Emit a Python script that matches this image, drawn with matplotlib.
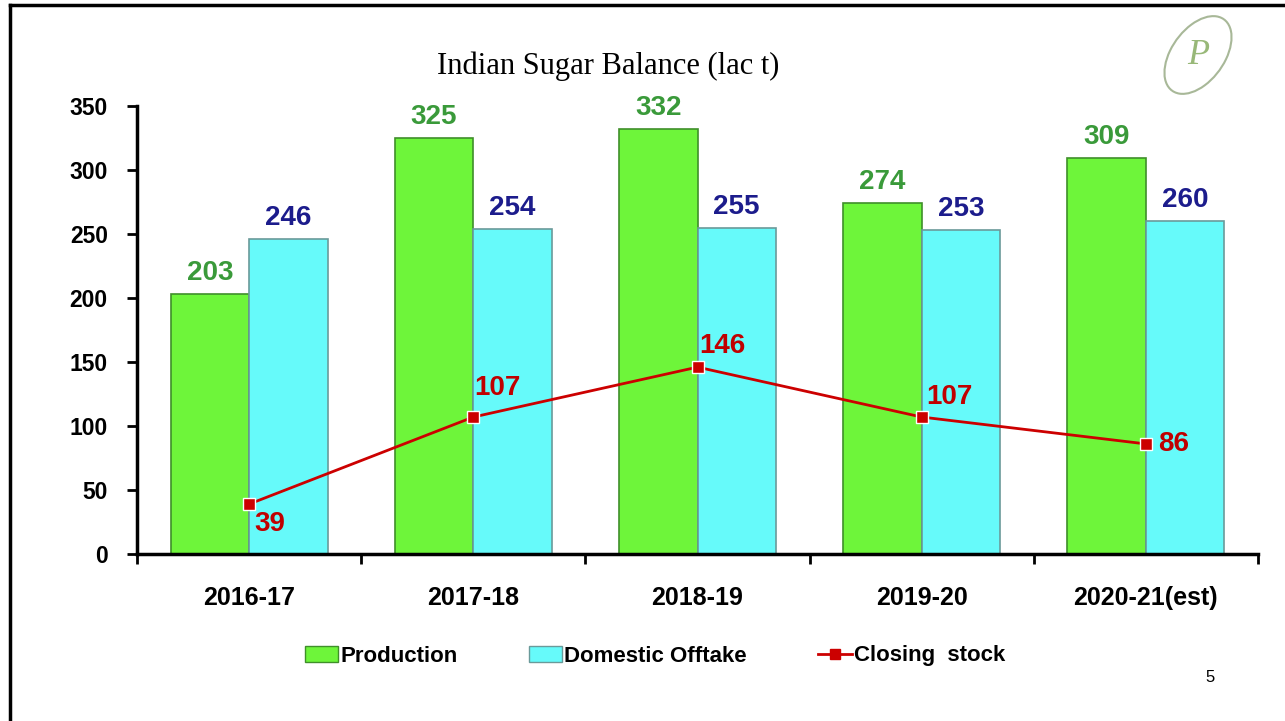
import matplotlib.pyplot as plt
import numpy as np
from matplotlib.patches import Ellipse, Patch
from matplotlib.lines import Line2D

plt.rcParams['font.family'] = ['Liberation Sans', 'DejaVu Sans']

# Données (lac t)
saisons = ['2016-17', '2017-18', '2018-19', '2019-20', '2020-21(est)']
production = [203, 325, 332, 274, 309]
consommation = [246, 254, 255, 253, 260]
stock_final = [39, 107, 146, 107, 86]

# décalage des étiquettes du stock (pixels)
decalages = [(21, -20), (24, 29), (25, 21), (28, 20), (12, 0)]

fig = plt.figure(figsize=(12.85, 7.21), dpi=100)
ax = fig.add_axes([137 / 1285, 167 / 721, 1121 / 1285, 448 / 721])

x = np.arange(len(saisons))
w = 0.35

ax.bar(x - w / 2, production, w, color='#6ef53a', edgecolor='#3f8f2a', linewidth=1.2, zorder=2)
ax.bar(x + w / 2, consommation, w, color='#66fafa', edgecolor='#6a9a9a', linewidth=1.2, zorder=2)
ax.plot(x, stock_final, color='#cc0000', linewidth=2, marker='s', markersize=9,
        markerfacecolor='#cc0000', markeredgecolor='white', markeredgewidth=1, zorder=4)

for i in range(len(saisons)):
    ax.annotate(str(production[i]), (x[i] - w / 2, production[i]), xytext=(0, 8),
                textcoords='offset pixels', ha='center', va='bottom',
                fontsize=20, fontweight='bold', color='#3a9a3a')
    ax.annotate(str(consommation[i]), (x[i] + w / 2, consommation[i]), xytext=(0, 8),
                textcoords='offset pixels', ha='center', va='bottom',
                fontsize=20, fontweight='bold', color='#1c1c8c')
    dx, dy = decalages[i]
    ax.annotate(str(stock_final[i]), (x[i], stock_final[i]), xytext=(dx, dy),
                textcoords='offset pixels', ha='center' if i < 4 else 'left', va='center',
                fontsize=20, fontweight='bold', color='#c00000', zorder=5)

ax.set_xlim(-0.5, len(saisons) - 0.5)
ax.set_ylim(0, 350)
ax.set_yticks(range(0, 351, 50))
ax.set_xticks(np.arange(-0.5, len(saisons), 1.0))
ax.set_xticklabels([])
ax.set_xticks(x, minor=True)
ax.set_xticklabels(saisons, minor=True)
ax.tick_params(axis='x', which='minor', length=0, pad=23, labelsize=18)
ax.tick_params(axis='x', which='major', length=7, width=2, direction='out')
ax.tick_params(axis='y', length=7, width=2, direction='out', labelsize=16.5, pad=14)
for lab in ax.get_xticklabels(minor=True) + ax.get_yticklabels():
    lab.set_fontweight('bold')

for s in ['top', 'right']:
    ax.spines[s].set_visible(False)
for s in ['left', 'bottom']:
    ax.spines[s].set_linewidth(2.5)

fig.text(608 / 1285, 1 - 66 / 721, 'Indian Sugar Balance (lac t)', ha='center', va='center',
         fontsize=22, family='Liberation Serif')

poignees = [Patch(facecolor='#6ef53a', edgecolor='#3f8f2a'),
            Patch(facecolor='#66fafa', edgecolor='#6a9a9a'),
            Line2D([0], [0], color='#cc0000', linewidth=2, marker='s', markersize=7)]
fig.legend(poignees, ['Production', 'Domestic Offtake', 'Closing  stock'],
           loc='center', bbox_to_anchor=(655 / 1285, 1 - 656 / 721), ncol=3, frameon=False,
           prop={'weight': 'bold', 'size': 16}, handlelength=1.5, handletextpad=0.1,
           columnspacing=3.2)

fig.text(1210 / 1285, 1 - 677 / 721, '5', ha='center', va='center', fontsize=12)

# cadre de la page
fig.add_artist(Line2D([10 / 1285, 10 / 1285], [0, 1 - 5 / 721], color='black', linewidth=2.5,
                      transform=fig.transFigure))
fig.add_artist(Line2D([10 / 1285, 1], [1 - 5 / 721, 1 - 5 / 721], color='black', linewidth=2.5,
                      transform=fig.transFigure))

# petit logo
fig.add_artist(Ellipse((1198 / 1285, 1 - 55 / 721), 58 / 1285, 80 / 721, angle=-15,
                       transform=fig.transFigure, fill=False, edgecolor='#a8b898', linewidth=1.5))
fig.text(1198 / 1285, 1 - 55 / 721, 'P', ha='center', va='center', fontsize=26,
         style='italic', family='Liberation Serif', color='#98b878')

fig.savefig('out.png', dpi=100)
